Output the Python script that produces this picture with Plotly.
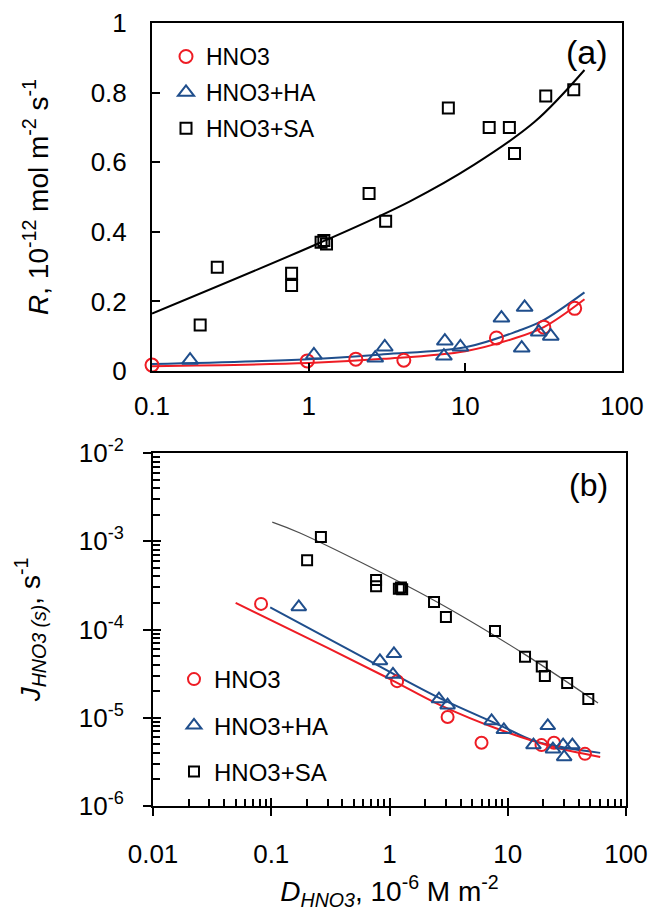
import plotly.graph_objects as go

# ---------------- Panel (a) data ----------------
a_hno3_x = [0.1, 0.98, 2.0, 4.05, 15.8, 31.7, 49.9]
a_hno3_y = [0.017, 0.029, 0.034, 0.031, 0.095, 0.126, 0.18]

a_ha_x = [0.175, 1.08, 2.66, 3.06, 7.3, 7.4, 9.3, 17.0, 22.9, 23.9, 29.4, 35.1]
a_ha_y = [0.031, 0.046, 0.037, 0.069, 0.043, 0.086, 0.069, 0.152, 0.066, 0.183, 0.112, 0.10]

a_sa_x = [0.203, 0.261, 0.778, 0.778, 1.2, 1.25, 1.3, 2.43, 3.1, 7.79, 14.2, 19.1, 20.6, 32.6, 49.2]
a_sa_y = [0.132, 0.298, 0.281, 0.246, 0.37, 0.375, 0.365, 0.51, 0.43, 0.756, 0.70, 0.70, 0.625, 0.79, 0.808]

a_fit_hno3_x = [0.1, 1, 3, 10, 20, 31.7, 57.6]
a_fit_hno3_y = [0.014, 0.023, 0.035, 0.057, 0.092, 0.126, 0.206]
a_fit_ha_x = [0.1, 1, 3, 10, 21.7, 30.7, 57.6]
a_fit_ha_y = [0.02, 0.034, 0.048, 0.068, 0.115, 0.143, 0.226]
a_fit_sa_x = [0.1, 1.2, 4.4, 11.4, 27.7, 57.6]
a_fit_sa_y = [0.165, 0.37, 0.487, 0.593, 0.716, 0.865]

a_xticks = [0.1, 1, 10, 100]
a_xticktext = ["0.1", "1", "10", "100"]
a_yticks = [0, 0.2, 0.4, 0.6, 0.8, 1]
a_yticktext = ["0", "0.2", "0.4", "0.6", "0.8", "1"]

# ---------------- Panel (b) data ----------------
b_hno3_x = [0.082, 1.16, 3.1, 6.0, 19.3, 24.6, 45]
b_hno3_y = [1.95e-4, 2.6e-5, 1.02e-5, 5.2e-6, 4.9e-6, 5.2e-6, 3.9e-6]

b_ha_x = [0.171, 0.83, 1.09, 1.07, 2.62, 3.1, 7.3, 9.27, 16.5, 21.8, 24.1, 29.4, 30.0, 35.2]
b_ha_y = [1.8e-4, 4.4e-5, 5.3e-5, 3.1e-5, 1.63e-5, 1.39e-5, 9.2e-6, 7.3e-6, 4.9e-6, 8.1e-6, 4.4e-6, 4.9e-6, 3.6e-6, 4.9e-6]

b_sa_x = [0.201, 0.263, 0.77, 0.77, 1.2, 1.25, 1.28, 2.38, 3.0, 7.8, 14.0, 19.4, 20.6, 31.8, 48.0]
b_sa_y = [6.1e-4, 1.12e-3, 3.64e-4, 3.1e-4, 2.9e-4, 3.0e-4, 2.85e-4, 2.05e-4, 1.39e-4, 9.6e-5, 4.9e-5, 3.8e-5, 2.97e-5, 2.48e-5, 1.63e-5]

b_fit_hno3_x = [0.05, 0.3, 1.0, 2.68, 8.6, 24.1, 60.5]
b_fit_hno3_y = [2.0e-4, 6.2e-5, 2.76e-5, 1.39e-5, 7.3e-6, 4.7e-6, 3.6e-6]
b_fit_ha_x = [0.098, 0.5, 2.53, 8.6, 16.5, 30.0, 60.5]
b_fit_ha_y = [1.78e-4, 5.5e-5, 1.72e-5, 8.2e-6, 5.5e-6, 4.6e-6, 4.0e-6]
b_fit_sa_x = [0.102, 0.175, 2.35, 13.4, 58.0]
b_fit_sa_y = [1.65e-3, 1.24e-3, 2.16e-4, 5.4e-5, 1.47e-5]

b_xticks = [0.01, 0.1, 1, 10, 100]
b_xticktext = ["0.01", "0.1", "1", "10", "100"]
b_yticks = [1e-6, 1e-5, 1e-4, 1e-3, 1e-2]
b_yticktext = ["10<sup>-6</sup>", "10<sup>-5</sup>", "10<sup>-4</sup>", "10<sup>-3</sup>", "10<sup>-2</sup>"]
b_yminor = [m * 10.0 ** e for e in range(-6, -2) for m in range(2, 10)]
b_xminor = [m * 10.0 ** e for e in range(-2, 2) for m in range(2, 10)]

series_names = ["HNO3", "HNO3+HA", "HNO3+SA"]

# ---------------- Styles ----------------
RED = "#EE1C24"
BLUE = "#1F4E8C"
BLACK = "#000000"
GREY = "#4D4D4D"
FONT = "Liberation Sans, Arial, sans-serif"

fig = go.Figure()

# Panel (a) fit lines
fig.add_trace(go.Scatter(x=a_fit_sa_x, y=a_fit_sa_y, mode="lines", line=dict(color=BLACK, width=2, shape="spline"),
                         showlegend=False, xaxis="x", yaxis="y"))
fig.add_trace(go.Scatter(x=a_fit_ha_x, y=a_fit_ha_y, mode="lines", line=dict(color=BLUE, width=2, shape="spline"),
                         showlegend=False, xaxis="x", yaxis="y"))
fig.add_trace(go.Scatter(x=a_fit_hno3_x, y=a_fit_hno3_y, mode="lines", line=dict(color=RED, width=2, shape="spline"),
                         showlegend=False, xaxis="x", yaxis="y"))

# Panel (a) markers
fig.add_trace(go.Scatter(x=a_hno3_x, y=a_hno3_y, mode="markers", name=series_names[0], legend="legend",
                         legendgroup="a1", cliponaxis=False,
                         marker=dict(symbol="circle-open", size=13, color=RED, line=dict(width=2, color=RED)),
                         xaxis="x", yaxis="y"))
fig.add_trace(go.Scatter(x=a_ha_x, y=a_ha_y, mode="markers", name=series_names[1], legend="legend",
                         legendgroup="a2", cliponaxis=False,
                         marker=dict(symbol="triangle-up-open", size=14, color=BLUE, line=dict(width=2, color=BLUE)),
                         xaxis="x", yaxis="y"))
fig.add_trace(go.Scatter(x=a_sa_x, y=a_sa_y, mode="markers", name=series_names[2], legend="legend",
                         legendgroup="a3", cliponaxis=False,
                         marker=dict(symbol="square-open", size=11, color=BLACK, line=dict(width=2, color=BLACK)),
                         xaxis="x", yaxis="y"))

# Panel (b) fit lines
fig.add_trace(go.Scatter(x=b_fit_sa_x, y=b_fit_sa_y, mode="lines", line=dict(color=GREY, width=1.2, shape="spline"),
                         showlegend=False, xaxis="x2", yaxis="y2"))
fig.add_trace(go.Scatter(x=b_fit_ha_x, y=b_fit_ha_y, mode="lines", line=dict(color=BLUE, width=2, shape="spline"),
                         showlegend=False, xaxis="x2", yaxis="y2"))
fig.add_trace(go.Scatter(x=b_fit_hno3_x, y=b_fit_hno3_y, mode="lines", line=dict(color=RED, width=2, shape="spline"),
                         showlegend=False, xaxis="x2", yaxis="y2"))

# Panel (b) markers
fig.add_trace(go.Scatter(x=b_hno3_x, y=b_hno3_y, mode="markers", name=series_names[0], legend="legend2",
                         legendgroup="b1", cliponaxis=False,
                         marker=dict(symbol="circle-open", size=12, color=RED, line=dict(width=2, color=RED)),
                         xaxis="x2", yaxis="y2"))
fig.add_trace(go.Scatter(x=b_ha_x, y=b_ha_y, mode="markers", name=series_names[1], legend="legend2",
                         legendgroup="b2", cliponaxis=False,
                         marker=dict(symbol="triangle-up-open", size=13, color=BLUE, line=dict(width=2, color=BLUE)),
                         xaxis="x2", yaxis="y2"))
fig.add_trace(go.Scatter(x=b_sa_x, y=b_sa_y, mode="markers", name=series_names[2], legend="legend2",
                         legendgroup="b3", cliponaxis=False,
                         marker=dict(symbol="square-open", size=10, color=BLACK, line=dict(width=2, color=BLACK)),
                         xaxis="x2", yaxis="y2"))

# helper (empty) trace so the overlay axes for inside major ticks exist
fig.add_trace(go.Scatter(x=[None], y=[None], mode="markers", showlegend=False, hoverinfo="skip",
                         xaxis="x3", yaxis="y3"))

W, H = 649, 911
ax_a = [152 / W, 622 / W]
ay_a = [1 - 371 / H, 1 - 23 / H]
ax_b = [153 / W, 626 / W]
ay_b = [1 - 806 / H, 1 - 453 / H]

tickfont = dict(family=FONT, size=26, color=BLACK)
titlefont = dict(family=FONT, size=28, color=BLACK)

fig.update_layout(
    width=W, height=H,
    margin=dict(l=0, r=0, t=0, b=0, pad=0),
    paper_bgcolor="white", plot_bgcolor="white",
    font=dict(family=FONT, color=BLACK),
    xaxis=dict(domain=ax_a, anchor="y", type="log", range=[-1, 2], automargin=False,
               tickmode="array", tickvals=a_xticks, ticktext=a_xticktext,
               ticks="inside", ticklen=8, tickwidth=2, tickcolor=BLACK,
               showline=True, linewidth=2, linecolor=BLACK, mirror=True,
               showgrid=False, zeroline=False, tickfont=tickfont, ticklabelstandoff=11),
    yaxis=dict(domain=ay_a, anchor="x", range=[0, 1], automargin=False,
               tickmode="array", tickvals=a_yticks, ticktext=a_yticktext,
               ticks="inside", ticklen=8, tickwidth=2, tickcolor=BLACK,
               showline=True, linewidth=2, linecolor=BLACK, mirror=True,
               showgrid=False, zeroline=False, tickfont=tickfont, ticklabelstandoff=18,
               title=dict(text="<i>R</i>, 10<sup>-12</sup> mol m<sup>-2</sup> s<sup>-1</sup>",
                          font=titlefont, standoff=34)),
    xaxis2=dict(domain=ax_b, anchor="y2", type="log", range=[-2, 2], automargin=False,
                tickmode="array", tickvals=b_xticks, ticktext=b_xticktext,
                ticks="outside", ticklen=8, tickwidth=2, tickcolor=BLACK,
                minor=dict(tickmode="array", tickvals=b_xminor, ticks="inside", ticklen=7,
                           tickwidth=1.5, tickcolor=BLACK, showgrid=False),
                showline=True, linewidth=2, linecolor=BLACK, mirror=True,
                showgrid=False, zeroline=False, tickfont=tickfont, ticklabelstandoff=16,
                title=dict(text="<i>D</i><sub><i>HNO3</i></sub>, 10<sup>-6</sup> M m<sup>-2</sup>",
                           font=titlefont, standoff=23)),
    yaxis2=dict(domain=ay_b, anchor="x2", type="log", range=[-6, -2], automargin=False,
                tickmode="array", tickvals=b_yticks, ticktext=b_yticktext,
                ticks="outside", ticklen=8, tickwidth=2, tickcolor=BLACK,
                minor=dict(tickmode="array", tickvals=b_yminor, ticks="inside", ticklen=7,
                           tickwidth=1.5, tickcolor=BLACK, showgrid=False),
                showline=True, linewidth=2, linecolor=BLACK, mirror=True,
                showgrid=False, zeroline=False, tickfont=tickfont, ticklabelstandoff=14,
                title=dict(text="<i>J</i><sub><i>HNO3 (s)</i></sub>, s<sup>-1</sup>",
                           font=titlefont, standoff=30)),
    xaxis3=dict(overlaying="x2", anchor="y3", type="log", range=[-2, 2], automargin=False,
                tickmode="array", tickvals=b_xticks, showticklabels=False,
                ticks="inside", ticklen=8, tickwidth=2, tickcolor=BLACK,
                showline=False, showgrid=False, zeroline=False),
    yaxis3=dict(overlaying="y2", anchor="x3", type="log", range=[-6, -2], automargin=False,
                tickmode="array", tickvals=b_yticks, showticklabels=False,
                ticks="inside", ticklen=8, tickwidth=2, tickcolor=BLACK,
                showline=False, showgrid=False, zeroline=False),
    legend=dict(x=166 / W, y=1 - 35 / H, xanchor="left", yanchor="top",
                bgcolor="rgba(0,0,0,0)", font=dict(family=FONT, size=23, color=BLACK),
                tracegroupgap=3, itemsizing="trace"),
    legend2=dict(x=174 / W, y=1 - 657 / H, xanchor="left", yanchor="top",
                 bgcolor="rgba(0,0,0,0)", font=dict(family=FONT, size=24, color=BLACK),
                 tracegroupgap=12, itemsizing="trace"),
    annotations=[
        dict(text="(a)", x=587 / W, y=1 - 52 / H, xref="paper", yref="paper",
             xanchor="center", yanchor="middle",
             showarrow=False, font=dict(family=FONT, size=34, color=BLACK)),
        dict(text="(b)", x=588 / W, y=1 - 485 / H, xref="paper", yref="paper",
             xanchor="center", yanchor="middle",
             showarrow=False, font=dict(family=FONT, size=32, color=BLACK)),
    ],
)

fig.write_html("out.html", config={"displayModeBar": False},
               post_script="document.body.style.margin='0';document.body.style.padding='0';")
